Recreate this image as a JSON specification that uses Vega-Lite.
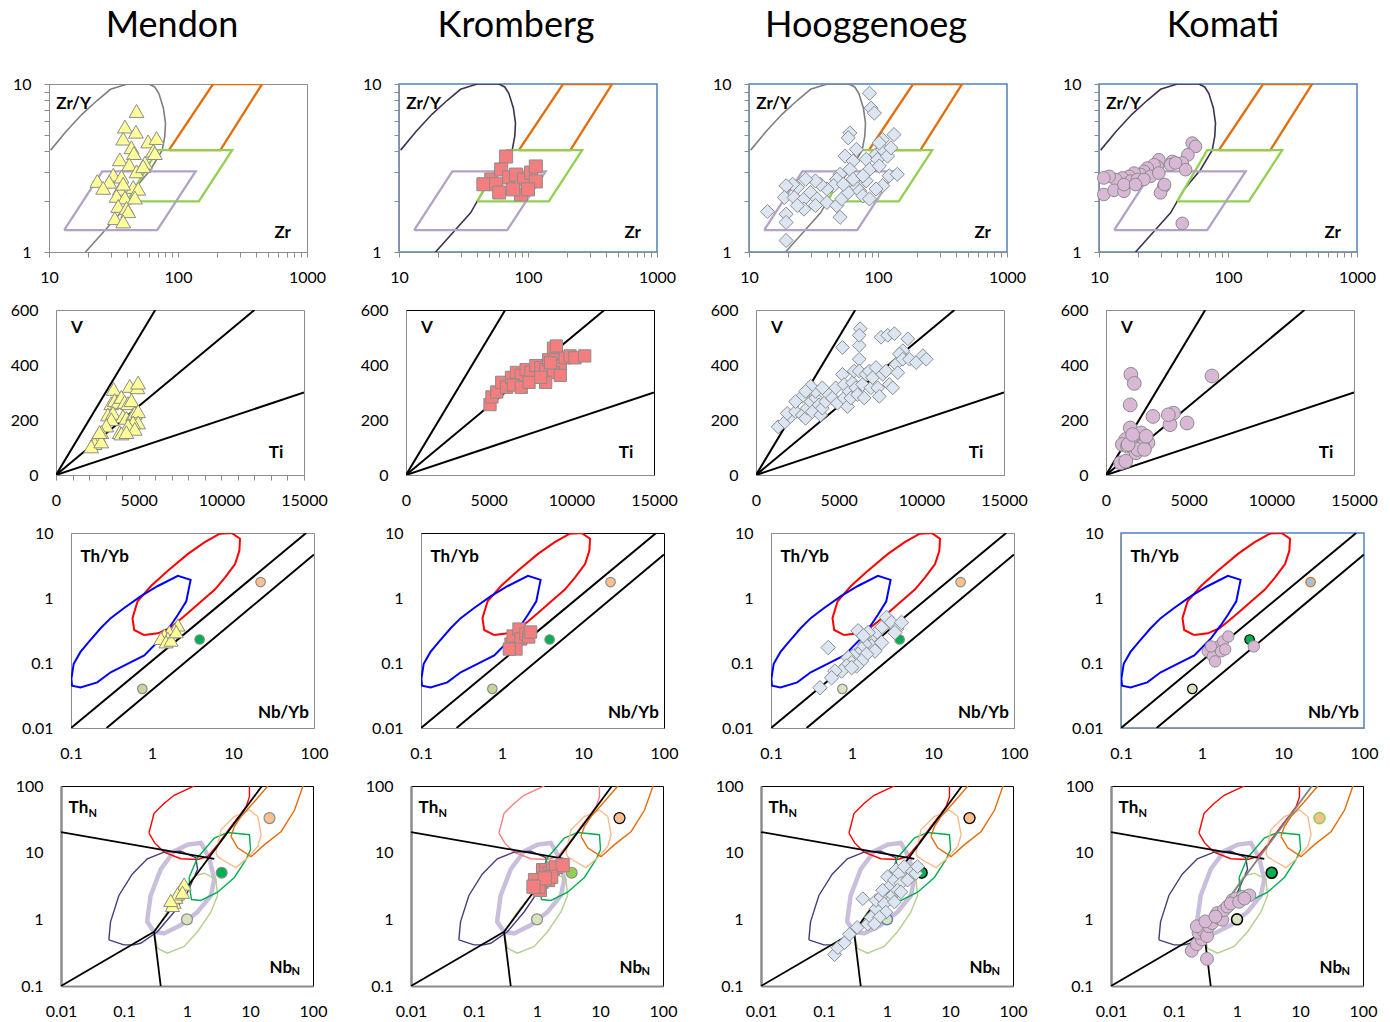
{
  "$schema": "https://vega.github.io/schema/vega-lite/v6.json",
  "background": "white",
  "padding": {"left": 5, "top": 7, "right": 5, "bottom": 0},
  "datasets": {
    "zry_fields": [
      {"field": "curve", "o": 1, "zr": 10.3, "zry": 4.04},
      {"field": "curve", "o": 2, "zr": 13.5, "zry": 5.2},
      {"field": "curve", "o": 3, "zr": 18, "zry": 6.6},
      {"field": "curve", "o": 4, "zr": 23.7, "zry": 8.0},
      {"field": "curve", "o": 5, "zr": 30, "zry": 9.3},
      {"field": "curve", "o": 6, "zr": 40.4, "zry": 10},
      {"field": "curve", "o": 7, "zr": 59.5, "zry": 10},
      {"field": "curve", "o": 8, "zr": 66, "zry": 9.6},
      {"field": "curve", "o": 9, "zr": 71, "zry": 8.8},
      {"field": "curve", "o": 10, "zr": 77, "zry": 7.2},
      {"field": "curve", "o": 11, "zr": 80, "zry": 5.85},
      {"field": "curve", "o": 12, "zr": 79, "zry": 4.9},
      {"field": "curve", "o": 13, "zr": 75.4, "zry": 4.04},
      {"field": "curve", "o": 14, "zr": 61.2, "zry": 3.09},
      {"field": "curve", "o": 15, "zr": 45.5, "zry": 2.35},
      {"field": "curve", "o": 16, "zr": 35.9, "zry": 1.71},
      {"field": "curve", "o": 17, "zr": 27.5, "zry": 1.36},
      {"field": "curve", "o": 18, "zr": 19.2, "zry": 1.0},
      {"field": "WPB", "o": 1, "zr": 85, "zry": 4.04},
      {"field": "WPB", "o": 2, "zr": 213, "zry": 4.04},
      {"field": "WPB", "o": 3, "zr": 449, "zry": 10},
      {"field": "WPB", "o": 4, "zr": 187, "zry": 10},
      {"field": "WPB", "o": 5, "zr": 85, "zry": 4.04},
      {"field": "MORB", "o": 1, "zr": 40.4, "zry": 2.0},
      {"field": "MORB", "o": 2, "zr": 145, "zry": 2.0},
      {"field": "MORB", "o": 3, "zr": 263, "zry": 4.04},
      {"field": "MORB", "o": 4, "zr": 69, "zry": 4.04},
      {"field": "MORB", "o": 5, "zr": 40.4, "zry": 2.0},
      {"field": "IAB", "o": 1, "zr": 13.1, "zry": 1.35},
      {"field": "IAB", "o": 2, "zr": 69, "zry": 1.35},
      {"field": "IAB", "o": 3, "zr": 137, "zry": 3.02},
      {"field": "IAB", "o": 4, "zr": 25.9, "zry": 3.02},
      {"field": "IAB", "o": 5, "zr": 13.1, "zry": 1.35}
    ],
    "tags_zry": [{"t": "Zr/Y", "zr": 11.4, "zry": 7.6}, {"t": "Zr", "zr": 560, "zry": 1.29}],
    "zry_mendon": [
      {"zr": 47.7, "zry": 6.91}, {"zr": 38.8, "zry": 5.58}, {"zr": 47.2, "zry": 5.2}, {"zr": 37.6, "zry": 4.73},
      {"zr": 58.7, "zry": 4.55}, {"zr": 68.2, "zry": 4.77}, {"zr": 64.2, "zry": 4.01}, {"zr": 43.6, "zry": 4.2},
      {"zr": 45.5, "zry": 3.88}, {"zr": 35.4, "zry": 3.56}, {"zr": 55.4, "zry": 3.4}, {"zr": 41.9, "zry": 3.32},
      {"zr": 47.7, "zry": 3.02}, {"zr": 31.5, "zry": 2.88}, {"zr": 36.5, "zry": 2.81}, {"zr": 23.7, "zry": 2.65},
      {"zr": 29.3, "zry": 2.62}, {"zr": 26.3, "zry": 2.41}, {"zr": 35.4, "zry": 2.38}, {"zr": 45.0, "zry": 2.44},
      {"zr": 49.2, "zry": 2.38}, {"zr": 33.4, "zry": 2.16}, {"zr": 38.8, "zry": 2.11}, {"zr": 46.3, "zry": 2.11},
      {"zr": 34.4, "zry": 1.88}, {"zr": 39.9, "zry": 1.83}, {"zr": 41.1, "zry": 1.75}, {"zr": 32.4, "zry": 1.59},
      {"zr": 37.6, "zry": 1.52}, {"zr": 66.2, "zry": 3.88}, {"zr": 53.7, "zry": 3.24}, {"zr": 37.6, "zry": 2.55}
    ],
    "zry_kromberg": [
      {"zr": 67.7, "zry": 3.7}, {"zr": 51.9, "zry": 2.7}, {"zr": 45.1, "zry": 2.53}, {"zr": 56.7, "zry": 2.53},
      {"zr": 62, "zry": 3.1}, {"zr": 71.4, "zry": 2.78}, {"zr": 80.9, "zry": 2.89}, {"zr": 93.1, "zry": 2.7},
      {"zr": 105.5, "zry": 2.97}, {"zr": 115, "zry": 3.23}, {"zr": 88.3, "zry": 2.2}, {"zr": 76.7, "zry": 2.36},
      {"zr": 59.8, "zry": 2.26}, {"zr": 115, "zry": 2.63}, {"zr": 100, "zry": 2.36}
    ],
    "zry_hooggenoeg": [
      {"zr": 85.9, "zry": 8.81}, {"zr": 88.4, "zry": 7.18}, {"zr": 93.7, "zry": 6.71}, {"zr": 133, "zry": 5.0},
      {"zr": 60.5, "zry": 5.11}, {"zr": 58.8, "zry": 4.78}, {"zr": 68, "zry": 4.08}, {"zr": 55.5, "zry": 3.72},
      {"zr": 64.1, "zry": 3.48}, {"zr": 81, "zry": 3.56}, {"zr": 96.6, "zry": 3.81}, {"zr": 99.4, "zry": 3.56},
      {"zr": 108.5, "zry": 4.08}, {"zr": 118.5, "zry": 3.72}, {"zr": 85.9, "zry": 3.1}, {"zr": 102.3, "zry": 3.25},
      {"zr": 122, "zry": 2.84}, {"zr": 141, "zry": 2.9}, {"zr": 108.5, "zry": 2.48}, {"zr": 81, "zry": 2.65},
      {"zr": 68, "zry": 2.42}, {"zr": 60.5, "zry": 3.1}, {"zr": 50.8, "zry": 2.9}, {"zr": 47.9, "zry": 2.71},
      {"zr": 45.2, "zry": 2.48}, {"zr": 40.2, "zry": 2.37}, {"zr": 35.7, "zry": 2.53}, {"zr": 32.7, "zry": 2.65},
      {"zr": 27.5, "zry": 2.71}, {"zr": 23.7, "zry": 2.42}, {"zr": 21.8, "zry": 2.53}, {"zr": 19.4, "zry": 2.48},
      {"zr": 18.8, "zry": 2.11}, {"zr": 22.4, "zry": 2.11}, {"zr": 26.7, "zry": 2.07}, {"zr": 30, "zry": 2.26},
      {"zr": 33.7, "zry": 2.07}, {"zr": 40.2, "zry": 1.97}, {"zr": 47.9, "zry": 1.89}, {"zr": 50.8, "zry": 1.61},
      {"zr": 52.3, "zry": 2.07}, {"zr": 58.8, "zry": 2.26}, {"zr": 72.1, "zry": 2.31}, {"zr": 76.4, "zry": 2.16},
      {"zr": 85.9, "zry": 2.07}, {"zr": 96.6, "zry": 2.37}, {"zr": 64.1, "zry": 2.71}, {"zr": 26.7, "zry": 1.8},
      {"zr": 23.7, "zry": 1.89}, {"zr": 19.4, "zry": 1.68}, {"zr": 19.4, "zry": 1.5}, {"zr": 13.9, "zry": 1.74},
      {"zr": 19.4, "zry": 1.17}, {"zr": 32.7, "zry": 1.89}, {"zr": 53.8, "zry": 2.53}, {"zr": 76.4, "zry": 2.84},
      {"zr": 108.5, "zry": 4.67}, {"zr": 126, "zry": 4.17}, {"zr": 102.3, "zry": 4.46}
    ],
    "zry_komati": [
      {"zr": 52.8, "zry": 4.45}, {"zr": 56, "zry": 4.25}, {"zr": 48.9, "zry": 3.79}, {"zr": 44.2, "zry": 3.39},
      {"zr": 46.9, "zry": 3.09}, {"zr": 37, "zry": 3.46}, {"zr": 35.9, "zry": 3.31}, {"zr": 29.1, "zry": 3.54},
      {"zr": 28.3, "zry": 3.23}, {"zr": 26.7, "zry": 3.31}, {"zr": 23.7, "zry": 3.16}, {"zr": 22.3, "zry": 3.02},
      {"zr": 21, "zry": 2.89}, {"zr": 18.7, "zry": 2.95}, {"zr": 17.1, "zry": 2.82}, {"zr": 15.2, "zry": 2.76},
      {"zr": 13.5, "zry": 2.7}, {"zr": 12, "zry": 2.82}, {"zr": 10.9, "zry": 2.76}, {"zr": 10.9, "zry": 2.2},
      {"zr": 13.1, "zry": 2.33}, {"zr": 15.6, "zry": 2.3}, {"zr": 17.6, "zry": 2.64}, {"zr": 19.8, "zry": 2.7},
      {"zr": 25.1, "zry": 2.82}, {"zr": 29.1, "zry": 2.95}, {"zr": 31.8, "zry": 2.46}, {"zr": 30, "zry": 2.25},
      {"zr": 32.2, "zry": 2.52}, {"zr": 44.2, "zry": 1.48}, {"zr": 39.2, "zry": 3.39}, {"zr": 15.6, "zry": 2.52},
      {"zr": 22.3, "zry": 2.7}, {"zr": 19.2, "zry": 2.52}
    ],
    "tiv_lines": [
      {"ratio": "10", "o": 1, "ti": 0, "v": 0}, {"ratio": "10", "o": 2, "ti": 6000, "v": 600},
      {"ratio": "20", "o": 1, "ti": 0, "v": 0}, {"ratio": "20", "o": 2, "ti": 12000, "v": 600},
      {"ratio": "50", "o": 1, "ti": 0, "v": 0}, {"ratio": "50", "o": 2, "ti": 15000, "v": 300}
    ],
    "tags_tiv": [{"t": "V", "ti": 900, "v": 533}, {"t": "Ti", "ti": 12870, "v": 81}],
    "tiv_mendon": [
      {"ti": 3487, "v": 313}, {"ti": 4460, "v": 324}, {"ti": 4926, "v": 319}, {"ti": 4967, "v": 336},
      {"ti": 3345, "v": 261}, {"ti": 3548, "v": 272}, {"ti": 3750, "v": 266}, {"ti": 3953, "v": 284},
      {"ti": 4156, "v": 266}, {"ti": 4358, "v": 261}, {"ti": 4561, "v": 272}, {"ti": 3142, "v": 220},
      {"ti": 3446, "v": 226}, {"ti": 4054, "v": 214}, {"ti": 4257, "v": 208}, {"ti": 4662, "v": 220},
      {"ti": 4764, "v": 226}, {"ti": 4967, "v": 232}, {"ti": 4967, "v": 191}, {"ti": 4662, "v": 191},
      {"ti": 4358, "v": 180}, {"ti": 3852, "v": 156}, {"ti": 3953, "v": 151}, {"ti": 3345, "v": 203},
      {"ti": 3041, "v": 180}, {"ti": 2737, "v": 156}, {"ti": 2534, "v": 145}, {"ti": 2433, "v": 133},
      {"ti": 2331, "v": 116}, {"ti": 2128, "v": 104}, {"ti": 2737, "v": 122}, {"ti": 2635, "v": 156},
      {"ti": 4764, "v": 168}, {"ti": 4257, "v": 156}
    ],
    "tiv_kromberg": [
      {"ti": 5080, "v": 256}, {"ti": 5198, "v": 284}, {"ti": 5493, "v": 302}, {"ti": 5789, "v": 337},
      {"ti": 6084, "v": 319}, {"ti": 6379, "v": 355}, {"ti": 6675, "v": 373}, {"ti": 6970, "v": 362},
      {"ti": 7265, "v": 383}, {"ti": 7561, "v": 373}, {"ti": 7856, "v": 398}, {"ti": 8151, "v": 390},
      {"ti": 8447, "v": 383}, {"ti": 8624, "v": 419}, {"ti": 8919, "v": 461}, {"ti": 9038, "v": 419},
      {"ti": 9333, "v": 398}, {"ti": 9628, "v": 426}, {"ti": 9923, "v": 433}, {"ti": 10219, "v": 426},
      {"ti": 10809, "v": 433}, {"ti": 8919, "v": 373}, {"ti": 8447, "v": 337}, {"ti": 9333, "v": 362},
      {"ti": 6497, "v": 327}, {"ti": 6970, "v": 319}, {"ti": 7442, "v": 337}, {"ti": 8151, "v": 355},
      {"ti": 8742, "v": 408}, {"ti": 9096, "v": 469}
    ],
    "tiv_hooggenoeg": [
      {"ti": 1338, "v": 175}, {"ti": 1743, "v": 193}, {"ti": 2088, "v": 212}, {"ti": 1885, "v": 224},
      {"ti": 2392, "v": 230}, {"ti": 2798, "v": 218}, {"ti": 3000, "v": 206}, {"ti": 3102, "v": 243},
      {"ti": 3304, "v": 267}, {"ti": 3406, "v": 230}, {"ti": 3608, "v": 280}, {"ti": 3811, "v": 255},
      {"ti": 3912, "v": 218}, {"ti": 4014, "v": 243}, {"ti": 4217, "v": 267}, {"ti": 4419, "v": 292},
      {"ti": 4622, "v": 280}, {"ti": 4825, "v": 317}, {"ti": 4926, "v": 261}, {"ti": 5230, "v": 366},
      {"ti": 5331, "v": 329}, {"ti": 5331, "v": 280}, {"ti": 5534, "v": 249}, {"ti": 5635, "v": 304},
      {"ti": 5737, "v": 280}, {"ti": 5838, "v": 335}, {"ti": 5940, "v": 378}, {"ti": 6041, "v": 317},
      {"ti": 6142, "v": 292}, {"ti": 6244, "v": 471}, {"ti": 6244, "v": 421}, {"ti": 6244, "v": 378},
      {"ti": 6446, "v": 329}, {"ti": 6548, "v": 280}, {"ti": 6649, "v": 366}, {"ti": 6852, "v": 378},
      {"ti": 6953, "v": 317}, {"ti": 7055, "v": 354}, {"ti": 7257, "v": 391}, {"ti": 7359, "v": 317},
      {"ti": 7460, "v": 286}, {"ti": 7663, "v": 366}, {"ti": 7865, "v": 378}, {"ti": 8068, "v": 329},
      {"ti": 8271, "v": 317}, {"ti": 8474, "v": 403}, {"ti": 8575, "v": 372}, {"ti": 8879, "v": 452},
      {"ti": 7561, "v": 501}, {"ti": 7967, "v": 508}, {"ti": 8372, "v": 514}, {"ti": 8676, "v": 440},
      {"ti": 8879, "v": 421}, {"ti": 9183, "v": 495}, {"ti": 9284, "v": 421}, {"ti": 9690, "v": 409},
      {"ti": 10095, "v": 434}, {"ti": 10298, "v": 421}, {"ti": 5230, "v": 464}, {"ti": 3608, "v": 304},
      {"ti": 3304, "v": 323}, {"ti": 2798, "v": 286}, {"ti": 2392, "v": 267}, {"ti": 4014, "v": 317},
      {"ti": 3000, "v": 304}, {"ti": 6305, "v": 532}, {"ti": 6244, "v": 508}
    ],
    "tiv_komati": [
      {"ti": 1504, "v": 366}, {"ti": 1710, "v": 333}, {"ti": 1463, "v": 255}, {"ti": 1463, "v": 171},
      {"ti": 1195, "v": 129}, {"ti": 989, "v": 111}, {"ti": 1298, "v": 105}, {"ti": 1607, "v": 123},
      {"ti": 1916, "v": 129}, {"ti": 2122, "v": 141}, {"ti": 2328, "v": 129}, {"ti": 2535, "v": 117},
      {"ti": 2225, "v": 105}, {"ti": 1813, "v": 81}, {"ti": 1916, "v": 93}, {"ti": 2328, "v": 93},
      {"ti": 886, "v": 44}, {"ti": 1195, "v": 50}, {"ti": 2844, "v": 213}, {"ti": 3874, "v": 183},
      {"ti": 4080, "v": 225}, {"ti": 3771, "v": 219}, {"ti": 4904, "v": 189}, {"ti": 6408, "v": 360},
      {"ti": 2122, "v": 153}, {"ti": 2431, "v": 141}, {"ti": 1339, "v": 111}, {"ti": 1607, "v": 147}
    ],
    "thyb_fields": [
      {"field": "arc", "o": 1, "nbyb": 0.803, "thyb": 0.269}, {"field": "arc", "o": 2, "nbyb": 0.603, "thyb": 0.322},
      {"field": "arc", "o": 3, "nbyb": 0.574, "thyb": 0.49}, {"field": "arc", "o": 4, "nbyb": 0.664, "thyb": 0.891},
      {"field": "arc", "o": 5, "nbyb": 0.972, "thyb": 1.53}, {"field": "arc", "o": 6, "nbyb": 1.57, "thyb": 2.62},
      {"field": "arc", "o": 7, "nbyb": 2.78, "thyb": 4.77}, {"field": "arc", "o": 8, "nbyb": 4.48, "thyb": 7.24},
      {"field": "arc", "o": 9, "nbyb": 6.88, "thyb": 9.78}, {"field": "arc", "o": 10, "nbyb": 9.62, "thyb": 10},
      {"field": "arc", "o": 11, "nbyb": 12.2, "thyb": 8.17}, {"field": "arc", "o": 12, "nbyb": 12.0, "thyb": 5.37},
      {"field": "arc", "o": 13, "nbyb": 10.6, "thyb": 3.33}, {"field": "arc", "o": 14, "nbyb": 7.95, "thyb": 2.06},
      {"field": "arc", "o": 15, "nbyb": 5.97, "thyb": 1.35}, {"field": "arc", "o": 16, "nbyb": 4.07, "thyb": 0.891},
      {"field": "arc", "o": 17, "nbyb": 2.78, "thyb": 0.586}, {"field": "arc", "o": 18, "nbyb": 2.09, "thyb": 0.435},
      {"field": "arc", "o": 19, "nbyb": 1.64, "thyb": 0.342}, {"field": "arc", "o": 20, "nbyb": 1.18, "thyb": 0.286},
      {"field": "arc", "o": 21, "nbyb": 0.803, "thyb": 0.269},
      {"field": "blue", "o": 1, "nbyb": 0.101, "thyb": 0.0568}, {"field": "blue", "o": 2, "nbyb": 0.108, "thyb": 0.0973},
      {"field": "blue", "o": 3, "nbyb": 0.131, "thyb": 0.148}, {"field": "blue", "o": 4, "nbyb": 0.166, "thyb": 0.212},
      {"field": "blue", "o": 5, "nbyb": 0.232, "thyb": 0.342}, {"field": "blue", "o": 6, "nbyb": 0.309, "thyb": 0.49},
      {"field": "blue", "o": 7, "nbyb": 0.453, "thyb": 0.701}, {"field": "blue", "o": 8, "nbyb": 0.73, "thyb": 1.07},
      {"field": "blue", "o": 9, "nbyb": 1.18, "thyb": 1.53}, {"field": "blue", "o": 10, "nbyb": 2.09, "thyb": 2.19},
      {"field": "blue", "o": 11, "nbyb": 3.0, "thyb": 1.9}, {"field": "blue", "o": 12, "nbyb": 2.92, "thyb": 1.62},
      {"field": "blue", "o": 13, "nbyb": 2.65, "thyb": 0.891}, {"field": "blue", "o": 14, "nbyb": 2.09, "thyb": 0.552},
      {"field": "blue", "o": 15, "nbyb": 1.72, "thyb": 0.385}, {"field": "blue", "o": 16, "nbyb": 1.29, "thyb": 0.239},
      {"field": "blue", "o": 17, "nbyb": 0.803, "thyb": 0.131}, {"field": "blue", "o": 18, "nbyb": 0.498, "thyb": 0.0973},
      {"field": "blue", "o": 19, "nbyb": 0.309, "thyb": 0.0721}, {"field": "blue", "o": 20, "nbyb": 0.211, "thyb": 0.0504},
      {"field": "blue", "o": 21, "nbyb": 0.131, "thyb": 0.0421}, {"field": "blue", "o": 22, "nbyb": 0.103, "thyb": 0.0447},
      {"field": "blue", "o": 23, "nbyb": 0.101, "thyb": 0.0568},
      {"field": "upper", "o": 1, "nbyb": 0.1, "thyb": 0.01}, {"field": "upper", "o": 2, "nbyb": 80, "thyb": 10},
      {"field": "lower", "o": 1, "nbyb": 0.275, "thyb": 0.01}, {"field": "lower", "o": 2, "nbyb": 100, "thyb": 4.66}
    ],
    "tags_thyb": [{"t": "Th/Yb", "nbyb": 0.131, "thyb": 4.34}, {"t": "Nb/Yb", "nbyb": 20.3, "thyb": 0.0171}],
    "refs": [
      {"ref": "N-MORB", "nbyb": 0.76, "thyb": 0.04, "nbn": 1, "thn": 1},
      {"ref": "E-MORB", "nbyb": 3.87, "thyb": 0.23, "nbn": 3.55, "thn": 5},
      {"ref": "OIB", "nbyb": 21.9, "thyb": 1.76, "nbn": 20.4, "thn": 33}
    ],
    "thyb_mendon": [
      {"nbyb": 2.09, "thyb": 0.385}, {"nbyb": 1.9, "thyb": 0.322}, {"nbyb": 1.64, "thyb": 0.303}, {"nbyb": 1.42, "thyb": 0.269},
      {"nbyb": 1.57, "thyb": 0.239}, {"nbyb": 1.29, "thyb": 0.239}, {"nbyb": 1.49, "thyb": 0.212}, {"nbyb": 1.72, "thyb": 0.225},
      {"nbyb": 1.99, "thyb": 0.303}
    ],
    "thyb_kromberg": [
      {"nbyb": 1.29, "thyb": 0.196}, {"nbyb": 1.37, "thyb": 0.26}, {"nbyb": 1.62, "thyb": 0.333}, {"nbyb": 1.71, "thyb": 0.234},
      {"nbyb": 1.97, "thyb": 0.279}, {"nbyb": 1.49, "thyb": 0.164}, {"nbyb": 2.14, "thyb": 0.251}, {"nbyb": 2.26, "thyb": 0.3},
      {"nbyb": 1.23, "thyb": 0.164}
    ],
    "thyb_hooggenoeg": [
      {"nbyb": 0.509, "thyb": 0.173}, {"nbyb": 1.19, "thyb": 0.313}, {"nbyb": 2.67, "thyb": 0.503}, {"nbyb": 3.07, "thyb": 0.421},
      {"nbyb": 3.55, "thyb": 0.332}, {"nbyb": 4.08, "thyb": 0.421}, {"nbyb": 3.38, "thyb": 0.294}, {"nbyb": 2.32, "thyb": 0.352},
      {"nbyb": 1.92, "thyb": 0.277}, {"nbyb": 1.66, "thyb": 0.232}, {"nbyb": 1.74, "thyb": 0.183}, {"nbyb": 1.44, "thyb": 0.194},
      {"nbyb": 1.31, "thyb": 0.163}, {"nbyb": 1.19, "thyb": 0.136}, {"nbyb": 1.04, "thyb": 0.128}, {"nbyb": 0.9, "thyb": 0.121},
      {"nbyb": 0.99, "thyb": 0.101}, {"nbyb": 0.857, "thyb": 0.0899}, {"nbyb": 0.743, "thyb": 0.0752}, {"nbyb": 0.615, "thyb": 0.0752},
      {"nbyb": 0.56, "thyb": 0.0593}, {"nbyb": 0.402, "thyb": 0.0416}, {"nbyb": 2.32, "thyb": 0.206}, {"nbyb": 1.92, "thyb": 0.153},
      {"nbyb": 1.51, "thyb": 0.136}, {"nbyb": 1.31, "thyb": 0.107}, {"nbyb": 1.14, "thyb": 0.0899}, {"nbyb": 0.99, "thyb": 0.0847},
      {"nbyb": 1.58, "thyb": 0.294}, {"nbyb": 1.38, "thyb": 0.262}
    ],
    "thyb_komati": [
      {"nbyb": 1.18, "thyb": 0.151}, {"nbyb": 1.36, "thyb": 0.127}, {"nbyb": 1.58, "thyb": 0.18}, {"nbyb": 1.82, "thyb": 0.215},
      {"nbyb": 2.11, "thyb": 0.256}, {"nbyb": 1.45, "thyb": 0.106}, {"nbyb": 1.72, "thyb": 0.151}, {"nbyb": 4.36, "thyb": 0.18},
      {"nbyb": 1.29, "thyb": 0.18}, {"nbyb": 1.93, "thyb": 0.162}
    ],
    "thn_fields": [
      {"field": "red", "o": 1, "nbn": 0.249, "thn": 19.7}, {"field": "red", "o": 2, "nbn": 0.3, "thn": 38.9},
      {"field": "red", "o": 3, "nbn": 0.432, "thn": 54.7}, {"field": "red", "o": 4, "nbn": 0.625, "thn": 72.6},
      {"field": "red", "o": 5, "nbn": 1.3, "thn": 100}, {"field": "red", "o": 6, "nbn": 2, "thn": 160},
      {"field": "red", "o": 7, "nbn": 8, "thn": 160}, {"field": "red", "o": 8, "nbn": 9.8, "thn": 100},
      {"field": "red", "o": 9, "nbn": 9.8, "thn": 68.7}, {"field": "red", "o": 10, "nbn": 8.67, "thn": 48.9},
      {"field": "red", "o": 11, "nbn": 7.21, "thn": 38.9}, {"field": "red", "o": 12, "nbn": 5.0, "thn": 24.7},
      {"field": "red", "o": 13, "nbn": 3.06, "thn": 13.2}, {"field": "red", "o": 14, "nbn": 2.12, "thn": 8.69},
      {"field": "red", "o": 15, "nbn": 1.47, "thn": 7.9}, {"field": "red", "o": 16, "nbn": 0.797, "thn": 8.1},
      {"field": "red", "o": 17, "nbn": 0.432, "thn": 10.2}, {"field": "red", "o": 18, "nbn": 0.307, "thn": 14.0},
      {"field": "red", "o": 19, "nbn": 0.249, "thn": 19.7},
      {"field": "purple", "o": 1, "nbn": 0.0575, "thn": 0.491}, {"field": "purple", "o": 2, "nbn": 0.0611, "thn": 0.916},
      {"field": "purple", "o": 3, "nbn": 0.083, "thn": 2.28}, {"field": "purple", "o": 4, "nbn": 0.135, "thn": 4.75},
      {"field": "purple", "o": 5, "nbn": 0.234, "thn": 8.1}, {"field": "purple", "o": 6, "nbn": 0.432, "thn": 10.2},
      {"field": "purple", "o": 7, "nbn": 0.798, "thn": 10.5}, {"field": "purple", "o": 8, "nbn": 1.38, "thn": 8.4},
      {"field": "purple", "o": 9, "nbn": 1.47, "thn": 5.64}, {"field": "purple", "o": 10, "nbn": 1.02, "thn": 2.55},
      {"field": "purple", "o": 11, "nbn": 0.624, "thn": 1.29}, {"field": "purple", "o": 12, "nbn": 0.339, "thn": 0.652},
      {"field": "purple", "o": 13, "nbn": 0.184, "thn": 0.437}, {"field": "purple", "o": 14, "nbn": 0.144, "thn": 0.414},
      {"field": "purple", "o": 15, "nbn": 0.0997, "thn": 0.414}, {"field": "purple", "o": 16, "nbn": 0.0575, "thn": 0.491},
      {"field": "lavender", "o": 1, "nbn": 0.234, "thn": 0.97}, {"field": "lavender", "o": 2, "nbn": 0.265, "thn": 2.28},
      {"field": "lavender", "o": 3, "nbn": 0.383, "thn": 5.64}, {"field": "lavender", "o": 4, "nbn": 0.624, "thn": 10.5},
      {"field": "lavender", "o": 5, "nbn": 1.02, "thn": 13.2}, {"field": "lavender", "o": 6, "nbn": 1.66, "thn": 14.0},
      {"field": "lavender", "o": 7, "nbn": 2.25, "thn": 8.4}, {"field": "lavender", "o": 8, "nbn": 2.71, "thn": 4.0},
      {"field": "lavender", "o": 9, "nbn": 2.4, "thn": 2.28}, {"field": "lavender", "o": 10, "nbn": 1.47, "thn": 1.29},
      {"field": "lavender", "o": 11, "nbn": 0.8, "thn": 0.82}, {"field": "lavender", "o": 12, "nbn": 0.432, "thn": 0.615},
      {"field": "lavender", "o": 13, "nbn": 0.3, "thn": 0.652}, {"field": "lavender", "o": 14, "nbn": 0.234, "thn": 0.916},
      {"field": "lavender", "o": 15, "nbn": 0.234, "thn": 0.97},
      {"field": "palegreen", "o": 1, "nbn": 0.3, "thn": 0.652}, {"field": "palegreen", "o": 2, "nbn": 0.489, "thn": 1.29},
      {"field": "palegreen", "o": 3, "nbn": 0.798, "thn": 2.28}, {"field": "palegreen", "o": 4, "nbn": 1.3, "thn": 4.5},
      {"field": "palegreen", "o": 5, "nbn": 1.88, "thn": 4.92}, {"field": "palegreen", "o": 6, "nbn": 2.88, "thn": 4.0},
      {"field": "palegreen", "o": 7, "nbn": 3.06, "thn": 2.28}, {"field": "palegreen", "o": 8, "nbn": 2.4, "thn": 1.29},
      {"field": "palegreen", "o": 9, "nbn": 1.47, "thn": 0.652}, {"field": "palegreen", "o": 10, "nbn": 0.9, "thn": 0.391},
      {"field": "palegreen", "o": 11, "nbn": 0.489, "thn": 0.311}, {"field": "palegreen", "o": 12, "nbn": 0.339, "thn": 0.369},
      {"field": "palegreen", "o": 13, "nbn": 0.307, "thn": 0.582}, {"field": "palegreen", "o": 14, "nbn": 0.3, "thn": 0.652},
      {"field": "green", "o": 1, "nbn": 1.08, "thn": 4.25}, {"field": "green", "o": 2, "nbn": 1.47, "thn": 8.4},
      {"field": "green", "o": 3, "nbn": 2.71, "thn": 16.6}, {"field": "green", "o": 4, "nbn": 4.42, "thn": 20.1},
      {"field": "green", "o": 5, "nbn": 9.8, "thn": 18.6}, {"field": "green", "o": 6, "nbn": 10.2, "thn": 11.1},
      {"field": "green", "o": 7, "nbn": 8.67, "thn": 7.9}, {"field": "green", "o": 8, "nbn": 5.65, "thn": 4.25},
      {"field": "green", "o": 9, "nbn": 3.06, "thn": 2.55}, {"field": "green", "o": 10, "nbn": 1.66, "thn": 1.92},
      {"field": "green", "o": 11, "nbn": 1.18, "thn": 1.98}, {"field": "green", "o": 12, "nbn": 1.12, "thn": 2.7},
      {"field": "green", "o": 13, "nbn": 1.08, "thn": 4.25},
      {"field": "peach", "o": 1, "nbn": 2.88, "thn": 9.96}, {"field": "peach", "o": 2, "nbn": 3.46, "thn": 22},
      {"field": "peach", "o": 3, "nbn": 5.65, "thn": 34.8}, {"field": "peach", "o": 4, "nbn": 9.8, "thn": 43.6},
      {"field": "peach", "o": 5, "nbn": 13.3, "thn": 34.8}, {"field": "peach", "o": 6, "nbn": 15, "thn": 18.6},
      {"field": "peach", "o": 7, "nbn": 13.3, "thn": 12.5}, {"field": "peach", "o": 8, "nbn": 9.2, "thn": 8.4},
      {"field": "peach", "o": 9, "nbn": 6.0, "thn": 5.97}, {"field": "peach", "o": 10, "nbn": 3.91, "thn": 7.5},
      {"field": "peach", "o": 11, "nbn": 3.06, "thn": 8.7}, {"field": "peach", "o": 12, "nbn": 2.88, "thn": 9.96},
      {"field": "orange", "o": 1, "nbn": 4.99, "thn": 17.6}, {"field": "orange", "o": 2, "nbn": 6.38, "thn": 11.8},
      {"field": "orange", "o": 3, "nbn": 10.4, "thn": 8.7}, {"field": "orange", "o": 4, "nbn": 17, "thn": 13.2},
      {"field": "orange", "o": 5, "nbn": 31.3, "thn": 20.8}, {"field": "orange", "o": 6, "nbn": 51, "thn": 43.6},
      {"field": "orange", "o": 7, "nbn": 69.3, "thn": 100}, {"field": "orange", "o": 8, "nbn": 72, "thn": 120},
      {"field": "orange", "o": 9, "nbn": 18, "thn": 120}, {"field": "orange", "o": 10, "nbn": 19.2, "thn": 100},
      {"field": "orange", "o": 11, "nbn": 11.7, "thn": 57.9}, {"field": "orange", "o": 12, "nbn": 7.2, "thn": 34.8},
      {"field": "orange", "o": 13, "nbn": 5.65, "thn": 24.7}, {"field": "orange", "o": 14, "nbn": 4.99, "thn": 17.6}
    ],
    "thn_lines": [
      {"line": "l1", "o": 1, "nbn": 0.01, "thn": 0.1}, {"line": "l1", "o": 2, "nbn": 0.3, "thn": 0.65},
      {"line": "l2", "o": 1, "nbn": 0.3, "thn": 0.65}, {"line": "l2", "o": 2, "nbn": 15.5, "thn": 100},
      {"line": "l3", "o": 1, "nbn": 0.01, "thn": 20.4}, {"line": "l3", "o": 2, "nbn": 2.71, "thn": 8.1},
      {"line": "l4", "o": 1, "nbn": 0.3, "thn": 0.65}, {"line": "l4", "o": 2, "nbn": 0.383, "thn": 0.1}
    ],
    "tags_thn": [{"t": "Th", "nbn": 0.0132, "thn": 46}, {"t": "Nb", "nbn": 20.4, "thn": 0.187}],
    "tags_thn_sub": [{"t": "N", "nbn": 0.0272, "thn": 38}, {"t": "N", "nbn": 45.5, "thn": 0.165}],
    "thn_mendon": [
      {"nbn": 0.624, "thn": 1.81}, {"nbn": 0.798, "thn": 2.85}, {"nbn": 0.9, "thn": 3.38}, {"nbn": 0.664, "thn": 2.15},
      {"nbn": 0.587, "thn": 1.62}, {"nbn": 0.706, "thn": 2.41}, {"nbn": 0.848, "thn": 2.55}, {"nbn": 0.552, "thn": 1.92}
    ],
    "thn_kromberg": [
      {"nbn": 0.99, "thn": 3.27}, {"nbn": 1.18, "thn": 3.66}, {"nbn": 1.11, "thn": 2.76}, {"nbn": 1.25, "thn": 5.47},
      {"nbn": 1.41, "thn": 5.47}, {"nbn": 1.59, "thn": 4.88}, {"nbn": 1.79, "thn": 5.78}, {"nbn": 2.01, "thn": 6.12},
      {"nbn": 2.55, "thn": 6.48}, {"nbn": 1.5, "thn": 3.88}, {"nbn": 1.68, "thn": 4.35}, {"nbn": 0.93, "thn": 3.88},
      {"nbn": 1.05, "thn": 3.09}, {"nbn": 1.33, "thn": 4.11}, {"nbn": 0.88, "thn": 3.09}
    ],
    "thn_hooggenoeg": [
      {"nbn": 0.147, "thn": 0.296}, {"nbn": 0.166, "thn": 0.375}, {"nbn": 0.212, "thn": 0.447}, {"nbn": 0.254, "thn": 0.598},
      {"nbn": 0.336, "thn": 0.756}, {"nbn": 0.413, "thn": 2.04}, {"nbn": 0.495, "thn": 0.849}, {"nbn": 0.559, "thn": 1.07},
      {"nbn": 0.67, "thn": 1.44}, {"nbn": 0.67, "thn": 1.92}, {"nbn": 0.803, "thn": 2.16}, {"nbn": 0.908, "thn": 1.71},
      {"nbn": 0.855, "thn": 2.73}, {"nbn": 1.02, "thn": 4.36}, {"nbn": 1.16, "thn": 3.26}, {"nbn": 1.23, "thn": 2.29},
      {"nbn": 1.31, "thn": 3.88}, {"nbn": 1.39, "thn": 5.51}, {"nbn": 1.57, "thn": 4.9}, {"nbn": 1.66, "thn": 3.45},
      {"nbn": 1.88, "thn": 6.19}, {"nbn": 2.12, "thn": 3.88}, {"nbn": 2.54, "thn": 5.2}, {"nbn": 2.87, "thn": 4.9},
      {"nbn": 3.05, "thn": 6.19}, {"nbn": 1.47, "thn": 2.73}, {"nbn": 0.96, "thn": 1.28}, {"nbn": 0.757, "thn": 1.07},
      {"nbn": 0.631, "thn": 0.849}, {"nbn": 1.31, "thn": 1.82}, {"nbn": 1.66, "thn": 2.58}
    ],
    "thn_komati": [
      {"nbn": 0.334, "thn": 0.255}, {"nbn": 0.191, "thn": 0.338}, {"nbn": 0.23, "thn": 0.424}, {"nbn": 0.277, "thn": 0.501},
      {"nbn": 0.245, "thn": 0.628}, {"nbn": 0.295, "thn": 0.664}, {"nbn": 0.334, "thn": 0.561}, {"nbn": 0.355, "thn": 0.787},
      {"nbn": 0.402, "thn": 0.881}, {"nbn": 0.515, "thn": 1.04}, {"nbn": 0.583, "thn": 0.986}, {"nbn": 0.484, "thn": 1.24},
      {"nbn": 0.621, "thn": 1.38}, {"nbn": 0.703, "thn": 1.55}, {"nbn": 0.846, "thn": 1.94}, {"nbn": 0.957, "thn": 2.05},
      {"nbn": 1.23, "thn": 2.17}, {"nbn": 1.57, "thn": 2.29}, {"nbn": 0.795, "thn": 1.73}, {"nbn": 1.08, "thn": 1.83},
      {"nbn": 1.31, "thn": 2.05}, {"nbn": 0.23, "thn": 0.787}, {"nbn": 0.314, "thn": 0.931}, {"nbn": 0.455, "thn": 1.1}
    ]
  },
  "spacing": 15,
  "resolve": {"scale": {"color": "independent", "fill": "independent", "stroke": "independent"}},
  "vconcat": [
    {
      "spacing": 0,
      "resolve": {"scale": {"color": "independent", "fill": "independent", "stroke": "independent"}},
      "hconcat": [
        {"width": 6, "height": 1, "data": {"values": []}, "mark": "point", "view": {"stroke": null}},
        {
          "spacing": 34,
          "resolve": {"scale": {"color": "independent", "fill": "independent", "stroke": "independent"}},
          "hconcat": [
            {
              "width": 258, "height": 168,
              "title": {"text": "Mendon", "fontSize": 36, "fontWeight": "normal", "font": "Lato", "color": "#000", "frame": "group", "anchor": "middle", "offset": 31, "dx": -6},
              "view": {"stroke": "#8c8c8c"},
              "encoding": {
                "x": {"field": "zr", "type": "quantitative", "title": null, "scale": {"type": "log", "domain": [10, 1000]}, "axis": {"values": [10, 20, 30, 40, 50, 60, 70, 80, 90, 100, 200, 300, 400, 500, 600, 700, 800, 900, 1000], "format": "d", "labelExpr": "datum.value==10||datum.value==100||datum.value==1000?datum.label:''", "tickSize": 5, "labelPadding": 12}},
                "y": {"field": "zry", "type": "quantitative", "title": null, "scale": {"type": "log", "domain": [1, 10]}, "axis": {"values": [1, 2, 3, 4, 5, 6, 7, 8, 9, 10], "format": "d", "labelExpr": "datum.value==1||datum.value==10?datum.label:''", "tickSize": 5, "labelPadding": 13}}
              },
              "layer": [
                {"data": {"name": "zry_fields"}, "transform": [{"filter": "datum.field == 'curve'"}], "mark": {"type": "line", "clip": true, "strokeWidth": 1.6, "color": "#7f7f7f"}, "encoding": {"order": {"field": "o", "type": "quantitative"}}},
                {"data": {"name": "zry_fields"}, "transform": [{"filter": "datum.field != 'curve'"}], "mark": {"type": "line", "clip": true, "strokeWidth": 2.3}, "encoding": {"detail": {"field": "field"}, "order": {"field": "o", "type": "quantitative"}, "color": {"field": "field", "type": "nominal", "scale": {"domain": ["WPB", "MORB", "IAB"], "range": ["#e46c0a", "#92d050", "#b3a2c7"]}, "legend": null}}},
                {"data": {"name": "zry_mendon"}, "mark": {"type": "point", "shape": "triangle-up", "filled": true, "fill": "#ffff99", "stroke": "#8c8c8c", "strokeWidth": 1, "size": 220, "opacity": 1}},
                {"data": {"name": "tags_zry"}, "mark": {"type": "text", "align": "left", "baseline": "middle", "font": "Lato", "fontWeight": "bold", "fontSize": 17, "color": "#000"}, "encoding": {"text": {"field": "t"}}}
              ]
            },
            {
              "width": 258, "height": 168,
              "title": {"text": "Kromberg", "fontSize": 36, "fontWeight": "normal", "font": "Lato", "color": "#000", "frame": "group", "anchor": "middle", "offset": 31, "dx": -12},
              "view": {"stroke": "#4f81bd", "strokeWidth": 1.5},
              "encoding": {
                "x": {"field": "zr", "type": "quantitative", "title": null, "scale": {"type": "log", "domain": [10, 1000]}, "axis": {"values": [10, 20, 30, 40, 50, 60, 70, 80, 90, 100, 200, 300, 400, 500, 600, 700, 800, 900, 1000], "format": "d", "labelExpr": "datum.value==10||datum.value==100||datum.value==1000?datum.label:''", "tickSize": 5, "labelPadding": 12}},
                "y": {"field": "zry", "type": "quantitative", "title": null, "scale": {"type": "log", "domain": [1, 10]}, "axis": {"values": [1, 2, 3, 4, 5, 6, 7, 8, 9, 10], "format": "d", "labelExpr": "datum.value==1||datum.value==10?datum.label:''", "tickSize": 5, "labelPadding": 13}}
              },
              "layer": [
                {"data": {"name": "zry_fields"}, "transform": [{"filter": "datum.field == 'curve'"}], "mark": {"type": "line", "clip": true, "strokeWidth": 1.6, "color": "#403152"}, "encoding": {"order": {"field": "o", "type": "quantitative"}}},
                {"data": {"name": "zry_fields"}, "transform": [{"filter": "datum.field != 'curve'"}], "mark": {"type": "line", "clip": true, "strokeWidth": 2.3}, "encoding": {"detail": {"field": "field"}, "order": {"field": "o", "type": "quantitative"}, "color": {"field": "field", "type": "nominal", "scale": {"domain": ["WPB", "MORB", "IAB"], "range": ["#e46c0a", "#92d050", "#b3a2c7"]}, "legend": null}}},
                {"data": {"name": "zry_kromberg"}, "mark": {"type": "point", "shape": "square", "filled": true, "fill": "#f47d7d", "stroke": "#8c8c8c", "strokeWidth": 1, "size": 170, "opacity": 1}},
                {"data": {"name": "tags_zry"}, "mark": {"type": "text", "align": "left", "baseline": "middle", "font": "Lato", "fontWeight": "bold", "fontSize": 17, "color": "#000"}, "encoding": {"text": {"field": "t"}}}
              ]
            },
            {
              "width": 258, "height": 168,
              "title": {"text": "Hooggenoeg", "fontSize": 36, "fontWeight": "normal", "font": "Lato", "color": "#000", "frame": "group", "anchor": "middle", "offset": 31, "dx": -12},
              "view": {"stroke": "#4f81bd", "strokeWidth": 1.5},
              "encoding": {
                "x": {"field": "zr", "type": "quantitative", "title": null, "scale": {"type": "log", "domain": [10, 1000]}, "axis": {"values": [10, 20, 30, 40, 50, 60, 70, 80, 90, 100, 200, 300, 400, 500, 600, 700, 800, 900, 1000], "format": "d", "labelExpr": "datum.value==10||datum.value==100||datum.value==1000?datum.label:''", "tickSize": 5, "labelPadding": 12}},
                "y": {"field": "zry", "type": "quantitative", "title": null, "scale": {"type": "log", "domain": [1, 10]}, "axis": {"values": [1, 2, 3, 4, 5, 6, 7, 8, 9, 10], "format": "d", "labelExpr": "datum.value==1||datum.value==10?datum.label:''", "tickSize": 5, "labelPadding": 13}}
              },
              "layer": [
                {"data": {"name": "zry_fields"}, "transform": [{"filter": "datum.field == 'curve'"}], "mark": {"type": "line", "clip": true, "strokeWidth": 1.6, "color": "#7f7f7f"}, "encoding": {"order": {"field": "o", "type": "quantitative"}}},
                {"data": {"name": "zry_fields"}, "transform": [{"filter": "datum.field != 'curve'"}], "mark": {"type": "line", "clip": true, "strokeWidth": 2.3}, "encoding": {"detail": {"field": "field"}, "order": {"field": "o", "type": "quantitative"}, "color": {"field": "field", "type": "nominal", "scale": {"domain": ["WPB", "MORB", "IAB"], "range": ["#e46c0a", "#92d050", "#b3a2c7"]}, "legend": null}}},
                {"data": {"name": "zry_hooggenoeg"}, "mark": {"type": "point", "shape": "diamond", "filled": true, "fill": "#dce6f2", "stroke": "#8c8c8c", "strokeWidth": 1, "size": 200, "opacity": 1}},
                {"data": {"name": "tags_zry"}, "mark": {"type": "text", "align": "left", "baseline": "middle", "font": "Lato", "fontWeight": "bold", "fontSize": 17, "color": "#000"}, "encoding": {"text": {"field": "t"}}}
              ]
            },
            {
              "width": 258, "height": 168,
              "title": {"text": "Komati", "fontSize": 36, "fontWeight": "normal", "font": "Lato", "color": "#000", "frame": "group", "anchor": "middle", "offset": 31, "dx": -5},
              "view": {"stroke": "#4f81bd", "strokeWidth": 1.5},
              "encoding": {
                "x": {"field": "zr", "type": "quantitative", "title": null, "scale": {"type": "log", "domain": [10, 1000]}, "axis": {"values": [10, 20, 30, 40, 50, 60, 70, 80, 90, 100, 200, 300, 400, 500, 600, 700, 800, 900, 1000], "format": "d", "labelExpr": "datum.value==10||datum.value==100||datum.value==1000?datum.label:''", "tickSize": 5, "labelPadding": 12}},
                "y": {"field": "zry", "type": "quantitative", "title": null, "scale": {"type": "log", "domain": [1, 10]}, "axis": {"values": [1, 2, 3, 4, 5, 6, 7, 8, 9, 10], "format": "d", "labelExpr": "datum.value==1||datum.value==10?datum.label:''", "tickSize": 5, "labelPadding": 13}}
              },
              "layer": [
                {"data": {"name": "zry_fields"}, "transform": [{"filter": "datum.field == 'curve'"}], "mark": {"type": "line", "clip": true, "strokeWidth": 1.6, "color": "#403152"}, "encoding": {"order": {"field": "o", "type": "quantitative"}}},
                {"data": {"name": "zry_fields"}, "transform": [{"filter": "datum.field != 'curve'"}], "mark": {"type": "line", "clip": true, "strokeWidth": 2.3}, "encoding": {"detail": {"field": "field"}, "order": {"field": "o", "type": "quantitative"}, "color": {"field": "field", "type": "nominal", "scale": {"domain": ["WPB", "MORB", "IAB"], "range": ["#e46c0a", "#92d050", "#b3a2c7"]}, "legend": null}}},
                {"data": {"name": "zry_komati"}, "mark": {"type": "point", "shape": "circle", "filled": true, "fill": "#d9b8d6", "stroke": "#8c8c8c", "strokeWidth": 1, "size": 160, "opacity": 1}},
                {"data": {"name": "tags_zry"}, "mark": {"type": "text", "align": "left", "baseline": "middle", "font": "Lato", "fontWeight": "bold", "fontSize": 17, "color": "#000"}, "encoding": {"text": {"field": "t"}}}
              ]
            }
          ]
        }
      ]
    },
    {
      "spacing": 0,
      "resolve": {"scale": {"color": "independent", "fill": "independent", "stroke": "independent"}},
      "hconcat": [
        {"width": 4, "height": 1, "data": {"values": []}, "mark": "point", "view": {"stroke": null}},
        {
          "spacing": 31,
          "resolve": {"scale": {"color": "independent", "fill": "independent", "stroke": "independent"}},
          "hconcat": [
            {
              "width": 248, "height": 165,
              "view": {"stroke": "#8c8c8c"},
              "encoding": {
                "x": {"field": "ti", "type": "quantitative", "title": null, "scale": {"domain": [0, 15000], "nice": false}, "axis": {"values": [0, 1000, 2000, 3000, 4000, 5000, 6000, 7000, 8000, 9000, 10000, 11000, 12000, 13000, 14000, 15000], "format": "d", "labelExpr": "datum.value%5000==0?datum.label:''", "tickSize": 5, "labelPadding": 12}},
                "y": {"field": "v", "type": "quantitative", "title": null, "scale": {"domain": [0, 600], "nice": false}, "axis": {"values": [0, 200, 400, 600], "format": "d", "tickSize": 0, "labelPadding": 18}}
              },
              "layer": [
                {"data": {"name": "tiv_lines"}, "mark": {"type": "line", "clip": true, "strokeWidth": 2, "color": "#000"}, "encoding": {"detail": {"field": "ratio"}, "order": {"field": "o", "type": "quantitative"}}},
                {"data": {"name": "tiv_mendon"}, "mark": {"type": "point", "shape": "triangle-up", "filled": true, "fill": "#ffff99", "stroke": "#8c8c8c", "strokeWidth": 1, "size": 220, "opacity": 1}},
                {"data": {"name": "tags_tiv"}, "mark": {"type": "text", "align": "left", "baseline": "middle", "font": "Lato", "fontWeight": "bold", "fontSize": 17, "color": "#000"}, "encoding": {"text": {"field": "t"}}}
              ]
            },
            {
              "width": 248, "height": 165,
              "view": {"stroke": "#000"},
              "encoding": {
                "x": {"field": "ti", "type": "quantitative", "title": null, "scale": {"domain": [0, 15000], "nice": false}, "axis": {"values": [0, 5000, 10000, 15000], "format": "d", "tickSize": 0, "labelPadding": 17}},
                "y": {"field": "v", "type": "quantitative", "title": null, "scale": {"domain": [0, 600], "nice": false}, "axis": {"values": [0, 200, 400, 600], "format": "d", "tickSize": 0, "labelPadding": 18}}
              },
              "layer": [
                {"data": {"name": "tiv_lines"}, "mark": {"type": "line", "clip": true, "strokeWidth": 2, "color": "#000"}, "encoding": {"detail": {"field": "ratio"}, "order": {"field": "o", "type": "quantitative"}}},
                {"data": {"name": "tiv_kromberg"}, "mark": {"type": "point", "shape": "square", "filled": true, "fill": "#f47d7d", "stroke": "#8c8c8c", "strokeWidth": 1, "size": 150, "opacity": 1}},
                {"data": {"name": "tags_tiv"}, "mark": {"type": "text", "align": "left", "baseline": "middle", "font": "Lato", "fontWeight": "bold", "fontSize": 17, "color": "#000"}, "encoding": {"text": {"field": "t"}}}
              ]
            },
            {
              "width": 248, "height": 165,
              "view": {"stroke": "#8c8c8c"},
              "encoding": {
                "x": {"field": "ti", "type": "quantitative", "title": null, "scale": {"domain": [0, 15000], "nice": false}, "axis": {"values": [0, 5000, 10000, 15000], "format": "d", "tickSize": 0, "labelPadding": 17}},
                "y": {"field": "v", "type": "quantitative", "title": null, "scale": {"domain": [0, 600], "nice": false}, "axis": {"values": [0, 200, 400, 600], "format": "d", "tickSize": 0, "labelPadding": 18}}
              },
              "layer": [
                {"data": {"name": "tiv_lines"}, "mark": {"type": "line", "clip": true, "strokeWidth": 2, "color": "#000"}, "encoding": {"detail": {"field": "ratio"}, "order": {"field": "o", "type": "quantitative"}}},
                {"data": {"name": "tiv_hooggenoeg"}, "mark": {"type": "point", "shape": "diamond", "filled": true, "fill": "#dce6f2", "stroke": "#8c8c8c", "strokeWidth": 1, "size": 190, "opacity": 1}},
                {"data": {"name": "tags_tiv"}, "mark": {"type": "text", "align": "left", "baseline": "middle", "font": "Lato", "fontWeight": "bold", "fontSize": 17, "color": "#000"}, "encoding": {"text": {"field": "t"}}}
              ]
            },
            {
              "width": 248, "height": 165,
              "view": {"stroke": "#8c8c8c"},
              "encoding": {
                "x": {"field": "ti", "type": "quantitative", "title": null, "scale": {"domain": [0, 15000], "nice": false}, "axis": {"values": [0, 5000, 10000, 15000], "format": "d", "tickSize": 0, "labelPadding": 17}},
                "y": {"field": "v", "type": "quantitative", "title": null, "scale": {"domain": [0, 600], "nice": false}, "axis": {"values": [0, 200, 400, 600], "format": "d", "tickSize": 0, "labelPadding": 18}}
              },
              "layer": [
                {"data": {"name": "tiv_lines"}, "mark": {"type": "line", "clip": true, "strokeWidth": 2, "color": "#000"}, "encoding": {"detail": {"field": "ratio"}, "order": {"field": "o", "type": "quantitative"}}},
                {"data": {"name": "tiv_komati"}, "mark": {"type": "point", "shape": "circle", "filled": true, "fill": "#d9b8d6", "stroke": "#8c8c8c", "strokeWidth": 1, "size": 190, "opacity": 1}},
                {"data": {"name": "tags_tiv"}, "mark": {"type": "text", "align": "left", "baseline": "middle", "font": "Lato", "fontWeight": "bold", "fontSize": 17, "color": "#000"}, "encoding": {"text": {"field": "t"}}}
              ]
            }
          ]
        }
      ]
    },
    {
      "spacing": 0,
      "resolve": {"scale": {"color": "independent", "fill": "independent", "stroke": "independent"}},
      "hconcat": [
        {"width": 15, "height": 1, "data": {"values": []}, "mark": "point", "view": {"stroke": null}},
        {
          "spacing": 41,
          "resolve": {"scale": {"color": "independent", "fill": "independent", "stroke": "independent"}},
          "hconcat": [
            {
              "width": 243, "height": 195,
              "view": {"stroke": "#8c8c8c"},
              "encoding": {
                "x": {"field": "nbyb", "type": "quantitative", "title": null, "scale": {"type": "log", "domain": [0.1, 100]}, "axis": {"values": [0.1, 1, 10, 100], "format": "~g", "tickSize": 0, "labelPadding": 17}},
                "y": {"field": "thyb", "type": "quantitative", "title": null, "scale": {"type": "log", "domain": [0.01, 10]}, "axis": {"values": [0.01, 0.1, 1, 10], "format": "~g", "tickSize": 0, "labelPadding": 18}}
              },
              "layer": [
                {"data": {"name": "thyb_fields"}, "mark": {"type": "line", "clip": true, "strokeWidth": 2}, "encoding": {"detail": {"field": "field"}, "order": {"field": "o", "type": "quantitative"}, "color": {"field": "field", "type": "nominal", "scale": {"domain": ["arc", "blue", "upper", "lower"], "range": ["#ff0000", "#0000ff", "#000000", "#000000"]}, "legend": null}}},
                {"data": {"name": "refs"}, "mark": {"type": "point", "shape": "circle", "filled": true, "strokeWidth": 1.2, "size": 90, "opacity": 1}, "encoding": {"fill": {"field": "ref", "type": "nominal", "scale": {"domain": ["N-MORB", "E-MORB", "OIB"], "range": ["#c4d79b", "#00b050", "#fac090"]}, "legend": null}, "stroke": {"field": "ref", "type": "nominal", "scale": {"domain": ["N-MORB", "E-MORB", "OIB"], "range": ["#8c8c8c", "#8c8c8c", "#8c8c8c"]}, "legend": null}}},
                {"data": {"name": "thyb_mendon"}, "mark": {"type": "point", "shape": "triangle-up", "filled": true, "fill": "#ffff99", "stroke": "#8c8c8c", "strokeWidth": 1, "size": 200, "opacity": 1}},
                {"data": {"name": "tags_thyb"}, "mark": {"type": "text", "align": "left", "baseline": "middle", "font": "Lato", "fontWeight": "bold", "fontSize": 17, "color": "#000"}, "encoding": {"text": {"field": "t"}}}
              ]
            },
            {
              "width": 243, "height": 195,
              "view": {"stroke": "#000"},
              "encoding": {
                "x": {"field": "nbyb", "type": "quantitative", "title": null, "scale": {"type": "log", "domain": [0.1, 100]}, "axis": {"values": [0.1, 1, 10, 100], "format": "~g", "tickSize": 0, "labelPadding": 17}},
                "y": {"field": "thyb", "type": "quantitative", "title": null, "scale": {"type": "log", "domain": [0.01, 10]}, "axis": {"values": [0.01, 0.1, 1, 10], "format": "~g", "tickSize": 0, "labelPadding": 18}}
              },
              "layer": [
                {"data": {"name": "thyb_fields"}, "mark": {"type": "line", "clip": true, "strokeWidth": 2}, "encoding": {"detail": {"field": "field"}, "order": {"field": "o", "type": "quantitative"}, "color": {"field": "field", "type": "nominal", "scale": {"domain": ["arc", "blue", "upper", "lower"], "range": ["#ff0000", "#0000ff", "#000000", "#000000"]}, "legend": null}}},
                {"data": {"name": "refs"}, "mark": {"type": "point", "shape": "circle", "filled": true, "strokeWidth": 1.2, "size": 90, "opacity": 1}, "encoding": {"fill": {"field": "ref", "type": "nominal", "scale": {"domain": ["N-MORB", "E-MORB", "OIB"], "range": ["#c4d79b", "#00b050", "#fac090"]}, "legend": null}, "stroke": {"field": "ref", "type": "nominal", "scale": {"domain": ["N-MORB", "E-MORB", "OIB"], "range": ["#8c8c8c", "#8c8c8c", "#8c8c8c"]}, "legend": null}}},
                {"data": {"name": "thyb_kromberg"}, "mark": {"type": "point", "shape": "square", "filled": true, "fill": "#f47d7d", "stroke": "#8c8c8c", "strokeWidth": 1, "size": 150, "opacity": 1}},
                {"data": {"name": "tags_thyb"}, "mark": {"type": "text", "align": "left", "baseline": "middle", "font": "Lato", "fontWeight": "bold", "fontSize": 17, "color": "#000"}, "encoding": {"text": {"field": "t"}}}
              ]
            },
            {
              "width": 243, "height": 195,
              "view": {"stroke": "#8c8c8c"},
              "encoding": {
                "x": {"field": "nbyb", "type": "quantitative", "title": null, "scale": {"type": "log", "domain": [0.1, 100]}, "axis": {"values": [0.1, 1, 10, 100], "format": "~g", "tickSize": 0, "labelPadding": 17}},
                "y": {"field": "thyb", "type": "quantitative", "title": null, "scale": {"type": "log", "domain": [0.01, 10]}, "axis": {"values": [0.01, 0.1, 1, 10], "format": "~g", "tickSize": 0, "labelPadding": 18}}
              },
              "layer": [
                {"data": {"name": "thyb_fields"}, "mark": {"type": "line", "clip": true, "strokeWidth": 2}, "encoding": {"detail": {"field": "field"}, "order": {"field": "o", "type": "quantitative"}, "color": {"field": "field", "type": "nominal", "scale": {"domain": ["arc", "blue", "upper", "lower"], "range": ["#ff0000", "#0000ff", "#000000", "#000000"]}, "legend": null}}},
                {"data": {"name": "refs"}, "mark": {"type": "point", "shape": "circle", "filled": true, "strokeWidth": 1.2, "size": 90, "opacity": 1}, "encoding": {"fill": {"field": "ref", "type": "nominal", "scale": {"domain": ["N-MORB", "E-MORB", "OIB"], "range": ["#d7e4bd", "#00b050", "#fac090"]}, "legend": null}, "stroke": {"field": "ref", "type": "nominal", "scale": {"domain": ["N-MORB", "E-MORB", "OIB"], "range": ["#8c8c8c", "#8c8c8c", "#8c8c8c"]}, "legend": null}}},
                {"data": {"name": "thyb_hooggenoeg"}, "mark": {"type": "point", "shape": "diamond", "filled": true, "fill": "#dce6f2", "stroke": "#8c8c8c", "strokeWidth": 1, "size": 210, "opacity": 1}},
                {"data": {"name": "tags_thyb"}, "mark": {"type": "text", "align": "left", "baseline": "middle", "font": "Lato", "fontWeight": "bold", "fontSize": 17, "color": "#000"}, "encoding": {"text": {"field": "t"}}}
              ]
            },
            {
              "width": 243, "height": 195,
              "view": {"stroke": "#4f81bd", "strokeWidth": 1.5},
              "encoding": {
                "x": {"field": "nbyb", "type": "quantitative", "title": null, "scale": {"type": "log", "domain": [0.1, 100]}, "axis": {"values": [0.1, 1, 10, 100], "format": "~g", "tickSize": 0, "labelPadding": 17}},
                "y": {"field": "thyb", "type": "quantitative", "title": null, "scale": {"type": "log", "domain": [0.01, 10]}, "axis": {"values": [0.01, 0.1, 1, 10], "format": "~g", "tickSize": 0, "labelPadding": 18}}
              },
              "layer": [
                {"data": {"name": "thyb_fields"}, "mark": {"type": "line", "clip": true, "strokeWidth": 2}, "encoding": {"detail": {"field": "field"}, "order": {"field": "o", "type": "quantitative"}, "color": {"field": "field", "type": "nominal", "scale": {"domain": ["arc", "blue", "upper", "lower"], "range": ["#ff0000", "#0000ff", "#000000", "#000000"]}, "legend": null}}},
                {"data": {"name": "refs"}, "mark": {"type": "point", "shape": "circle", "filled": true, "strokeWidth": 1.2, "size": 90, "opacity": 1}, "encoding": {"fill": {"field": "ref", "type": "nominal", "scale": {"domain": ["N-MORB", "E-MORB", "OIB"], "range": ["#d7e4bd", "#00b050", "#9dc3e6"]}, "legend": null}, "stroke": {"field": "ref", "type": "nominal", "scale": {"domain": ["N-MORB", "E-MORB", "OIB"], "range": ["#000000", "#000000", "#e46c0a"]}, "legend": null}}},
                {"data": {"name": "thyb_komati"}, "mark": {"type": "point", "shape": "circle", "filled": true, "fill": "#d9b8d6", "stroke": "#8c8c8c", "strokeWidth": 1, "size": 130, "opacity": 1}},
                {"data": {"name": "tags_thyb"}, "mark": {"type": "text", "align": "left", "baseline": "middle", "font": "Lato", "fontWeight": "bold", "fontSize": 17, "color": "#000"}, "encoding": {"text": {"field": "t"}}}
              ]
            }
          ]
        }
      ]
    },
    {
      "spacing": 0,
      "resolve": {"scale": {"color": "independent", "fill": "independent", "stroke": "independent"}},
      "hconcat": [
        {"width": 9, "height": 1, "data": {"values": []}, "mark": "point", "view": {"stroke": null}},
        {
          "spacing": 36,
          "resolve": {"scale": {"color": "independent", "fill": "independent", "stroke": "independent"}},
          "hconcat": [
            {
              "width": 252, "height": 200,
              "view": {"stroke": "#000"},
              "encoding": {
                "x": {"field": "nbn", "type": "quantitative", "title": null, "scale": {"type": "log", "domain": [0.01, 100]}, "axis": {"values": [0.01, 0.1, 1, 10, 100], "format": "~g", "tickSize": 0, "labelPadding": 17, "domainWidth": 2}},
                "y": {"field": "thn", "type": "quantitative", "title": null, "scale": {"type": "log", "domain": [0.1, 100]}, "axis": {"values": [0.1, 1, 10, 100], "format": "~g", "tickSize": 0, "labelPadding": 18, "domainWidth": 2.5}}
              },
              "layer": [
                {"data": {"name": "thn_fields"}, "transform": [{"filter": "datum.field == 'lavender'"}], "mark": {"type": "line", "clip": true, "strokeWidth": 4.5, "color": "#c9bfdd"}, "encoding": {"order": {"field": "o", "type": "quantitative"}}},
                {"data": {"name": "thn_fields"}, "transform": [{"filter": "datum.field != 'lavender'"}], "mark": {"type": "line", "clip": true, "strokeWidth": 1.4}, "encoding": {"detail": {"field": "field"}, "order": {"field": "o", "type": "quantitative"}, "color": {"field": "field", "type": "nominal", "scale": {"domain": ["red", "purple", "palegreen", "green", "peach", "orange"], "range": ["#ff0000", "#4b3a7a", "#b3d08c", "#00b050", "#fbb98a", "#e46c0a"]}, "legend": null}}},
                {"data": {"name": "thn_lines"}, "mark": {"type": "line", "clip": true, "strokeWidth": 1.8, "color": "#000"}, "encoding": {"detail": {"field": "line"}, "order": {"field": "o", "type": "quantitative"}}},
                {"data": {"name": "refs"}, "mark": {"type": "point", "shape": "circle", "filled": true, "strokeWidth": 1.2, "size": 120, "opacity": 1}, "encoding": {"fill": {"field": "ref", "type": "nominal", "scale": {"domain": ["N-MORB", "E-MORB", "OIB"], "range": ["#d7e4bd", "#00b050", "#fac090"]}, "legend": null}, "stroke": {"field": "ref", "type": "nominal", "scale": {"domain": ["N-MORB", "E-MORB", "OIB"], "range": ["#8c8c8c", "#8c8c8c", "#8c8c8c"]}, "legend": null}}},
                {"data": {"name": "thn_mendon"}, "mark": {"type": "point", "shape": "triangle-up", "filled": true, "fill": "#ffff99", "stroke": "#8c8c8c", "strokeWidth": 1, "size": 200, "opacity": 1}},
                {"data": {"name": "tags_thn"}, "mark": {"type": "text", "align": "left", "baseline": "middle", "font": "Lato", "fontWeight": "bold", "fontSize": 17, "color": "#000"}, "encoding": {"text": {"field": "t"}}},
                {"data": {"name": "tags_thn_sub"}, "mark": {"type": "text", "align": "left", "baseline": "middle", "font": "Lato", "fontWeight": "bold", "fontSize": 11, "color": "#000"}, "encoding": {"text": {"field": "t"}}}
              ]
            },
            {
              "width": 252, "height": 200,
              "view": {"stroke": "#000"},
              "encoding": {
                "x": {"field": "nbn", "type": "quantitative", "title": null, "scale": {"type": "log", "domain": [0.01, 100]}, "axis": {"values": [0.01, 0.1, 1, 10, 100], "format": "~g", "tickSize": 0, "labelPadding": 17, "domainWidth": 2}},
                "y": {"field": "thn", "type": "quantitative", "title": null, "scale": {"type": "log", "domain": [0.1, 100]}, "axis": {"values": [0.1, 1, 10, 100], "format": "~g", "tickSize": 0, "labelPadding": 18, "domainWidth": 2.5}}
              },
              "layer": [
                {"data": {"name": "thn_fields"}, "transform": [{"filter": "datum.field == 'lavender'"}], "mark": {"type": "line", "clip": true, "strokeWidth": 4.5, "color": "#c9bfdd"}, "encoding": {"order": {"field": "o", "type": "quantitative"}}},
                {"data": {"name": "thn_fields"}, "transform": [{"filter": "datum.field != 'lavender'"}], "mark": {"type": "line", "clip": true, "strokeWidth": 1.4}, "encoding": {"detail": {"field": "field"}, "order": {"field": "o", "type": "quantitative"}, "color": {"field": "field", "type": "nominal", "scale": {"domain": ["red", "purple", "palegreen", "green", "peach", "orange"], "range": ["#ff7c80", "#4b3a7a", "#b3d08c", "#00b050", "#fbb98a", "#e46c0a"]}, "legend": null}}},
                {"data": {"name": "thn_lines"}, "mark": {"type": "line", "clip": true, "strokeWidth": 1.8, "color": "#000"}, "encoding": {"detail": {"field": "line"}, "order": {"field": "o", "type": "quantitative"}}},
                {"data": {"name": "refs"}, "mark": {"type": "point", "shape": "circle", "filled": true, "strokeWidth": 1.2, "size": 120, "opacity": 1}, "encoding": {"fill": {"field": "ref", "type": "nominal", "scale": {"domain": ["N-MORB", "E-MORB", "OIB"], "range": ["#d7e4bd", "#92d050", "#fac090"]}, "legend": null}, "stroke": {"field": "ref", "type": "nominal", "scale": {"domain": ["N-MORB", "E-MORB", "OIB"], "range": ["#8c8c8c", "#8c8c8c", "#000000"]}, "legend": null}}},
                {"data": {"name": "thn_kromberg"}, "mark": {"type": "point", "shape": "square", "filled": true, "fill": "#f47d7d", "stroke": "#8c8c8c", "strokeWidth": 1, "size": 175, "opacity": 1}},
                {"data": {"name": "tags_thn"}, "mark": {"type": "text", "align": "left", "baseline": "middle", "font": "Lato", "fontWeight": "bold", "fontSize": 17, "color": "#000"}, "encoding": {"text": {"field": "t"}}},
                {"data": {"name": "tags_thn_sub"}, "mark": {"type": "text", "align": "left", "baseline": "middle", "font": "Lato", "fontWeight": "bold", "fontSize": 11, "color": "#000"}, "encoding": {"text": {"field": "t"}}}
              ]
            },
            {
              "width": 252, "height": 200,
              "view": {"stroke": "#000"},
              "encoding": {
                "x": {"field": "nbn", "type": "quantitative", "title": null, "scale": {"type": "log", "domain": [0.01, 100]}, "axis": {"values": [0.01, 0.1, 1, 10, 100], "format": "~g", "tickSize": 0, "labelPadding": 17, "domainWidth": 2}},
                "y": {"field": "thn", "type": "quantitative", "title": null, "scale": {"type": "log", "domain": [0.1, 100]}, "axis": {"values": [0.1, 1, 10, 100], "format": "~g", "tickSize": 0, "labelPadding": 18, "domainWidth": 2.5}}
              },
              "layer": [
                {"data": {"name": "thn_fields"}, "transform": [{"filter": "datum.field == 'lavender'"}], "mark": {"type": "line", "clip": true, "strokeWidth": 4.5, "color": "#c9bfdd"}, "encoding": {"order": {"field": "o", "type": "quantitative"}}},
                {"data": {"name": "thn_fields"}, "transform": [{"filter": "datum.field != 'lavender'"}], "mark": {"type": "line", "clip": true, "strokeWidth": 1.4}, "encoding": {"detail": {"field": "field"}, "order": {"field": "o", "type": "quantitative"}, "color": {"field": "field", "type": "nominal", "scale": {"domain": ["red", "purple", "palegreen", "green", "peach", "orange"], "range": ["#ff0000", "#4b3a7a", "#b3d08c", "#00b050", "#fbb98a", "#e46c0a"]}, "legend": null}}},
                {"data": {"name": "thn_lines"}, "mark": {"type": "line", "clip": true, "strokeWidth": 1.8, "color": "#000"}, "encoding": {"detail": {"field": "line"}, "order": {"field": "o", "type": "quantitative"}}},
                {"data": {"name": "refs"}, "mark": {"type": "point", "shape": "circle", "filled": true, "strokeWidth": 1.4, "size": 120, "opacity": 1}, "encoding": {"fill": {"field": "ref", "type": "nominal", "scale": {"domain": ["N-MORB", "E-MORB", "OIB"], "range": ["#d7e4bd", "#00b050", "#fac090"]}, "legend": null}, "stroke": {"field": "ref", "type": "nominal", "scale": {"domain": ["N-MORB", "E-MORB", "OIB"], "range": ["#4f81bd", "#000000", "#000000"]}, "legend": null}}},
                {"data": {"name": "thn_hooggenoeg"}, "mark": {"type": "point", "shape": "diamond", "filled": true, "fill": "#dce6f2", "stroke": "#8c8c8c", "strokeWidth": 1, "size": 190, "opacity": 1}},
                {"data": {"name": "tags_thn"}, "mark": {"type": "text", "align": "left", "baseline": "middle", "font": "Lato", "fontWeight": "bold", "fontSize": 17, "color": "#000"}, "encoding": {"text": {"field": "t"}}},
                {"data": {"name": "tags_thn_sub"}, "mark": {"type": "text", "align": "left", "baseline": "middle", "font": "Lato", "fontWeight": "bold", "fontSize": 11, "color": "#000"}, "encoding": {"text": {"field": "t"}}}
              ]
            },
            {
              "width": 252, "height": 200,
              "view": {"stroke": "#000"},
              "encoding": {
                "x": {"field": "nbn", "type": "quantitative", "title": null, "scale": {"type": "log", "domain": [0.01, 100]}, "axis": {"values": [0.01, 0.1, 1, 10, 100], "format": "~g", "tickSize": 0, "labelPadding": 17, "domainWidth": 2}},
                "y": {"field": "thn", "type": "quantitative", "title": null, "scale": {"type": "log", "domain": [0.1, 100]}, "axis": {"values": [0.1, 1, 10, 100], "format": "~g", "tickSize": 0, "labelPadding": 18, "domainWidth": 2.5}}
              },
              "layer": [
                {"data": {"name": "thn_fields"}, "transform": [{"filter": "datum.field == 'lavender'"}], "mark": {"type": "line", "clip": true, "strokeWidth": 4.5, "color": "#c9bfdd"}, "encoding": {"order": {"field": "o", "type": "quantitative"}}},
                {"data": {"name": "thn_fields"}, "transform": [{"filter": "datum.field != 'lavender'"}], "mark": {"type": "line", "clip": true, "strokeWidth": 1.4}, "encoding": {"detail": {"field": "field"}, "order": {"field": "o", "type": "quantitative"}, "color": {"field": "field", "type": "nominal", "scale": {"domain": ["red", "purple", "palegreen", "green", "peach", "orange"], "range": ["#ff0000", "#4b3a7a", "#b3d08c", "#00b050", "#fbb98a", "#e46c0a"]}, "legend": null}}},
                {"data": {"name": "thn_lines"}, "transform": [{"filter": "datum.line != 'l2'"}], "mark": {"type": "line", "clip": true, "strokeWidth": 1.8, "color": "#000"}, "encoding": {"detail": {"field": "line"}, "order": {"field": "o", "type": "quantitative"}}},
                {"data": {"name": "thn_lines"}, "transform": [{"filter": "datum.line == 'l2'"}], "mark": {"type": "line", "clip": true, "strokeWidth": 1.8, "color": "#808080"}, "encoding": {"order": {"field": "o", "type": "quantitative"}}},
                {"data": {"name": "refs"}, "mark": {"type": "point", "shape": "circle", "filled": true, "strokeWidth": 1.6, "size": 120, "opacity": 1}, "encoding": {"fill": {"field": "ref", "type": "nominal", "scale": {"domain": ["N-MORB", "E-MORB", "OIB"], "range": ["#d7e4bd", "#00b050", "#fac090"]}, "legend": null}, "stroke": {"field": "ref", "type": "nominal", "scale": {"domain": ["N-MORB", "E-MORB", "OIB"], "range": ["#000000", "#000000", "#92d050"]}, "legend": null}}},
                {"data": {"name": "thn_komati"}, "mark": {"type": "point", "shape": "circle", "filled": true, "fill": "#d9b8d6", "stroke": "#8c8c8c", "strokeWidth": 1, "size": 165, "opacity": 1}},
                {"data": {"name": "tags_thn"}, "mark": {"type": "text", "align": "left", "baseline": "middle", "font": "Lato", "fontWeight": "bold", "fontSize": 17, "color": "#000"}, "encoding": {"text": {"field": "t"}}},
                {"data": {"name": "tags_thn_sub"}, "mark": {"type": "text", "align": "left", "baseline": "middle", "font": "Lato", "fontWeight": "bold", "fontSize": 11, "color": "#000"}, "encoding": {"text": {"field": "t"}}}
              ]
            }
          ]
        }
      ]
    }
  ],
  "config": {
    "font": "Lato",
    "view": {"stroke": "#8c8c8c", "strokeWidth": 1},
    "axis": {
      "grid": false,
      "domainColor": "#8c8c8c",
      "domainWidth": 1,
      "tickColor": "#8c8c8c",
      "tickWidth": 1,
      "labelColor": "#000",
      "labelFont": "Lato",
      "labelFontSize": 16,
      "labelFlush": false,
      "labelOverlap": false,
      "labelBound": false
    }
  }
}
